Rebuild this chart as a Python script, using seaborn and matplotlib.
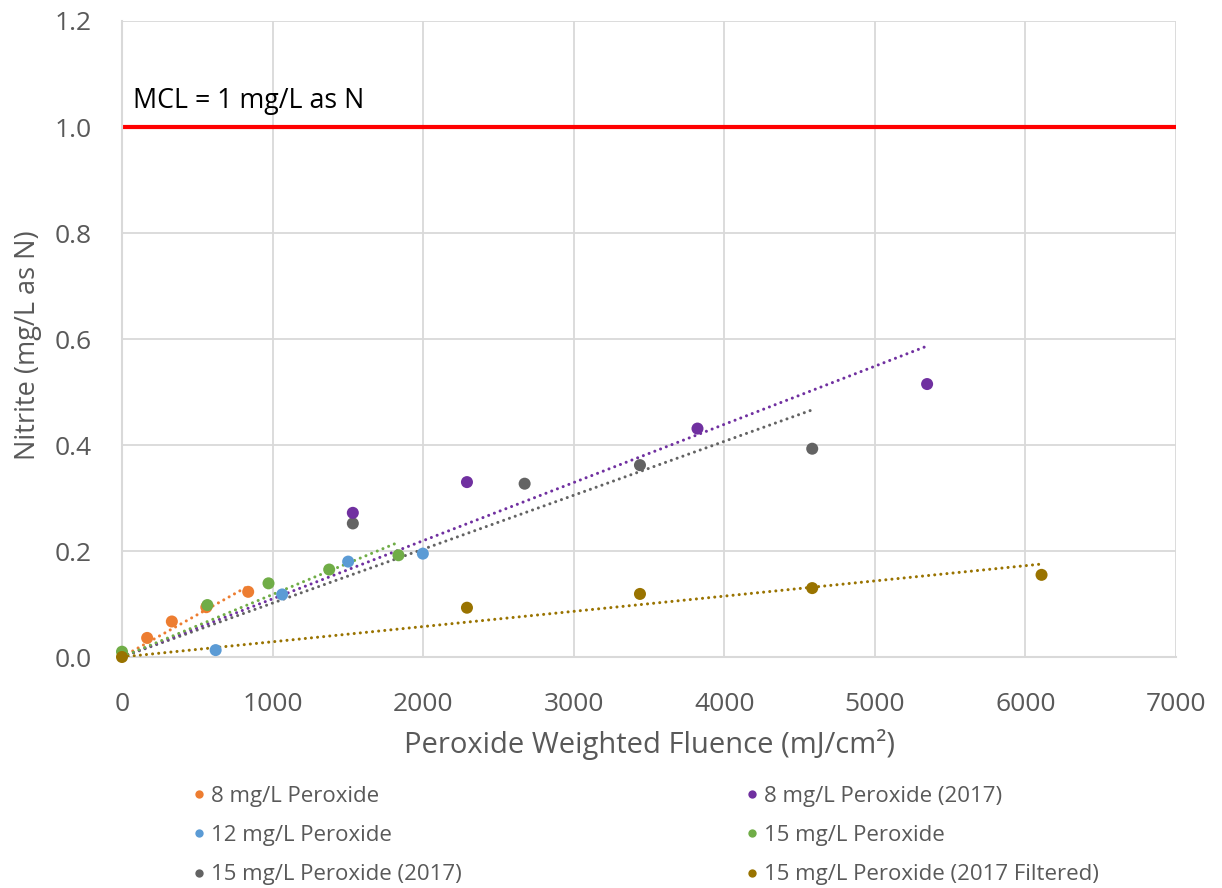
import numpy as np
import pandas as pd
import matplotlib
matplotlib.use("Agg")
import matplotlib.pyplot as plt
import seaborn as sns
from matplotlib.lines import Line2D

# Series: fluence (mJ/cm²) and nitrite (mg/L as N)
labels = ["8 mg/L Peroxide", "12 mg/L Peroxide", "15 mg/L Peroxide (2017)",
          "8 mg/L Peroxide (2017)", "15 mg/L Peroxide", "15 mg/L Peroxide (2017 Filtered)"]

x_8 = [167, 331, 560, 838]
y_8 = [0.036, 0.067, 0.094, 0.123]

x_12 = [622, 1064, 1502, 1998]
y_12 = [0.013, 0.118, 0.180, 0.195]

x_15_2017 = [1533, 2674, 3440, 4584]
y_15_2017 = [0.252, 0.327, 0.362, 0.393]

x_8_2017 = [1533, 2291, 3822, 5347]
y_8_2017 = [0.272, 0.330, 0.431, 0.515]

x_15 = [0, 567, 973, 1376, 1836]
y_15 = [0.010, 0.098, 0.139, 0.165, 0.192]

x_15_filt = [0, 2291, 3440, 4584, 6107]
y_15_filt = [0.0, 0.093, 0.119, 0.130, 0.155]

colors = ["#ED7D31", "#5B9BD5", "#636363", "#7030A0", "#70AD47", "#997300"]

# Which series get a linear trendline forced through the origin
trend = [True, False, True, True, True, True]

mcl = 1.0
mcl_label = "MCL = 1 mg/L as N"

series = [(x_8, y_8), (x_12, y_12), (x_15_2017, y_15_2017),
          (x_8_2017, y_8_2017), (x_15, y_15), (x_15_filt, y_15_filt)]

frames = []
for lab, (xs, ys) in zip(labels, series):
    frames.append(pd.DataFrame({"fluence": xs, "nitrite": ys, "series": lab}))
df = pd.concat(frames, ignore_index=True)

sns.set_theme(style="whitegrid")
plt.rcParams["font.family"] = ["Open Sans", "DejaVu Sans"]

fig = plt.figure(figsize=(12.22, 8.88), dpi=100)
ax = fig.add_axes([122 / 1222, 1 - 657 / 888, (1176 - 122) / 1222, (657 - 21) / 888])

grid_c = "#d9d9d9"
text_c = "#595959"

# Red MCL reference line
ax.plot([0, 7000], [mcl, mcl], color="#FF0000", lw=3, zorder=2, solid_capstyle="butt")
ax.text(75, 1.022, mcl_label, fontsize=19.3, color="black", va="bottom", ha="left")

# Trendlines (linear, zero intercept), round-dot style
for lab, (xs, ys), c, t in zip(labels, series, colors, trend):
    if not t:
        continue
    xa, ya = np.asarray(xs, float), np.asarray(ys, float)
    slope = (xa * ya).sum() / (xa * xa).sum()
    xx = np.array([0, xa.max()])
    ax.plot(xx, slope * xx, color=c, lw=2.2, linestyle=(0, (0.01, 2.0)),
            dash_capstyle="round", zorder=3)

sns.scatterplot(data=df, x="fluence", y="nitrite", hue="series",
                hue_order=labels, palette=colors, s=75, edgecolor="none",
                legend=False, ax=ax, zorder=4, clip_on=False)

ax.set_xlim(0, 7000)
ax.set_ylim(0, 1.2)
ax.set_xticks(np.arange(0, 7001, 1000))
ax.set_yticks(np.arange(0, 1.21, 0.2))
ax.set_yticklabels([f"{v:.1f}" for v in np.arange(0, 1.21, 0.2)])
ax.tick_params(axis="both", labelsize=19, colors=text_c, length=0)
ax.tick_params(axis="x", pad=25)
ax.tick_params(axis="y", pad=22)
ax.grid(True, color=grid_c, lw=1.3)
for side in ["top", "right"]:
    ax.spines[side].set_visible(False)
for side in ["left", "bottom"]:
    ax.spines[side].set_color(grid_c)
    ax.spines[side].set_linewidth(1.5)

ax.set_xlabel("Peroxide Weighted Fluence (mJ/cm²)", fontsize=21, color=text_c)
ax.set_ylabel("Nitrite (mg/L as N)", fontsize=19.5, color=text_c)
ax.xaxis.set_label_coords(0.5, (657 - 729) / 636)
ax.yaxis.set_label_coords((42 - 122) / 1054, (657 - 345) / 636)

handles = [Line2D([], [], marker="o", linestyle="none", color=c, markersize=6,
                  markeredgewidth=0) for c in colors]
legend_kw = dict(loc="upper left", frameon=False, fontsize=16, handletextpad=0.05,
                 labelspacing=0.82, handlelength=1.0, borderpad=0, borderaxespad=0)
leg1 = fig.legend(handles[:3], labels[:3], bbox_to_anchor=(188 / 1222, 1 - 786 / 888), **legend_kw)
leg2 = fig.legend(handles[3:], labels[3:], bbox_to_anchor=(741 / 1222, 1 - 786 / 888), **legend_kw)
for leg in (leg1, leg2):
    for t in leg.get_texts():
        t.set_color(text_c)

fig.savefig("out.png", dpi=100)
